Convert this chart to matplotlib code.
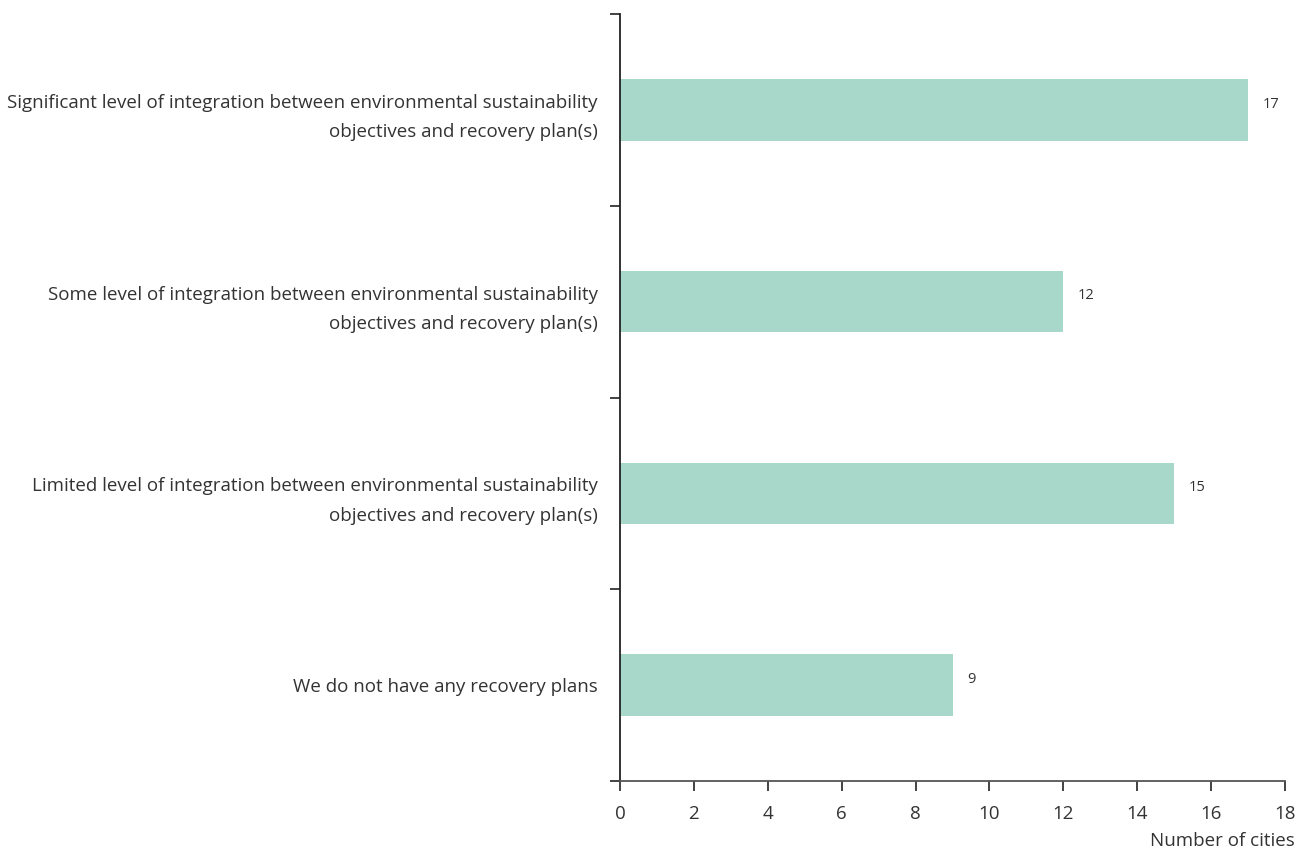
import matplotlib.pyplot as plt
import numpy as np

categories = [
    "Significant level of integration between environmental sustainability\nobjectives and recovery plan(s)",
    "Some level of integration between environmental sustainability\nobjectives and recovery plan(s)",
    "Limited level of integration between environmental sustainability\nobjectives and recovery plan(s)",
    "We do not have any recovery plans",
]
cities = [17, 12, 15, 9]
x_ticks = [0, 2, 4, 6, 8, 10, 12, 14, 16, 18]

plt.rcParams['font.family'] = ['Open Sans', 'DejaVu Sans']
text_color = '#333333'

fig = plt.figure(figsize=(13.08, 8.49), dpi=100)
ax = fig.add_axes([620 / 1308, 1 - 781 / 849, (1285 - 620) / 1308, (781 - 14) / 849])

y = np.arange(len(categories))
ax.barh(y, cities, height=0.32, color='#a8d8c9')
for yi, v in zip(y, cities):
    ax.text(v + 0.4, yi - 0.03, str(v), va='center', ha='left', fontsize=10.5, color=text_color)

ax.set_ylim(len(categories) - 0.5, -0.5)
ax.set_xlim(0, 18)
ax.set_xticks(x_ticks)
ax.set_xticklabels([str(t) for t in x_ticks], fontsize=13.5, color=text_color)

ax.set_yticks(y)
ax.set_yticklabels(categories, fontsize=13.5, color=text_color, linespacing=1.8)
ax.tick_params(axis='y', which='major', length=0, pad=16)
ax.set_yticks(np.arange(-0.5, len(categories), 1), minor=True)
ax.tick_params(axis='y', which='minor', length=7, width=1.2, color='#222222')
ax.tick_params(axis='x', length=7, width=1.2, color='#222222', pad=10)

for s in ['top', 'right']:
    ax.spines[s].set_visible(False)
ax.spines['left'].set_color('#222222')
ax.spines['left'].set_linewidth(1.3)
ax.spines['bottom'].set_color('#555555')
ax.spines['bottom'].set_linewidth(1.3)

ax.set_xlabel("Number of cities", fontsize=13.5, color=text_color, ha='right')
ax.xaxis.set_label_coords(1.015, -0.066)

fig.savefig('out.png', dpi=100)
